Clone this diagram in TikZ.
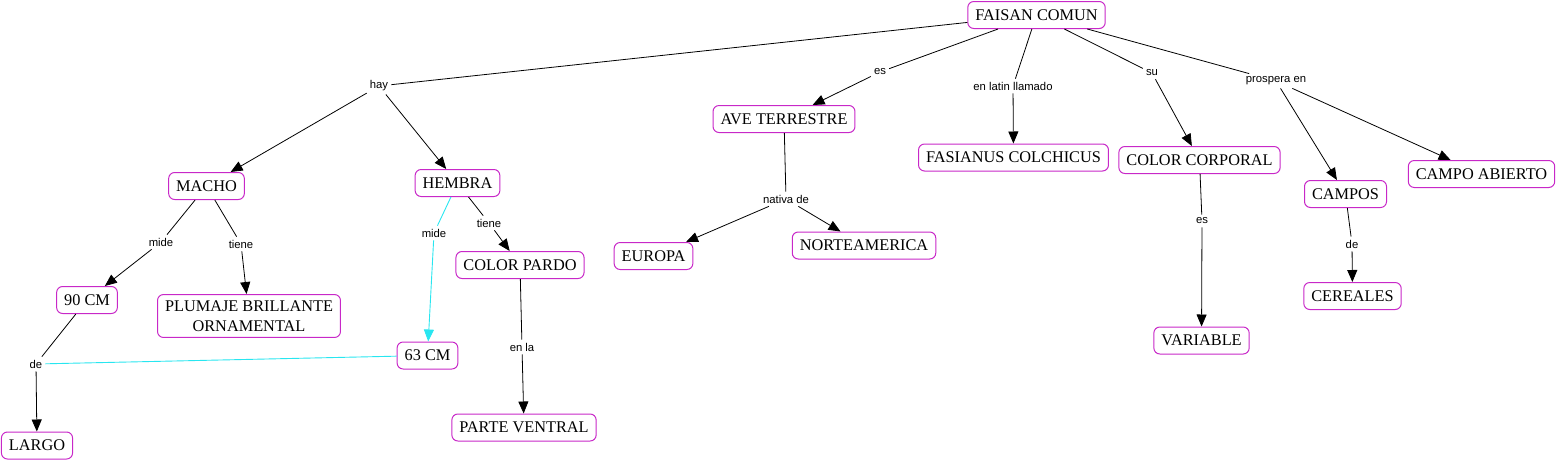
\documentclass[tikz,border=0pt]{standalone}
\usepackage{fontspec}
\setmainfont{Liberation Serif}
\newfontfamily\lblfont{Liberation Sans}
\usetikzlibrary{arrows.meta}
\definecolor{cmapborder}{RGB}{200,40,200}
\definecolor{cmapcyan}{RGB}{40,230,240}
\begin{document}
\begin{tikzpicture}[x=1pt,y=-1pt,
 concept/.style={draw=cmapborder, line width=1pt, rounded corners=6pt, fill=white,
   inner xsep=7.5pt, inner ysep=0pt, minimum height=27pt, align=center,
   font=\fontsize{16.3}{20}\selectfont},
 lbl/.style={font=\lblfont\fontsize{11.3}{13}\selectfont, inner sep=3pt},
 conn/.style={draw=black, line width=0.8pt},
 arr/.style={conn, -{Triangle[length=12pt,width=10pt]}},
 cconn/.style={draw=cmapcyan, line width=0.9pt},
 carr/.style={cconn, -{Triangle[length=12pt,width=10pt]}},
]
\useasboundingbox (0,0) rectangle (1557,461);
% concepts
\node[concept] (faisan) at (1036.5,15) {FAISAN COMUN};
\node[concept] (ave) at (784,119) {AVE TERRESTRE};
\node[concept] (fasianus) at (1013.5,157.5) {FASIANUS COLCHICUS};
\node[concept] (colorcorp) at (1199.5,160) {COLOR CORPORAL};
\node[concept] (campos) at (1345.5,194) {CAMPOS};
\node[concept] (campoab) at (1481.5,174) {CAMPO ABIERTO};
\node[concept] (cereales) at (1352.5,296) {CEREALES};
\node[concept] (variable) at (1201.5,340.5) {VARIABLE};
\node[concept] (europa) at (653.5,256) {EUROPA};
\node[concept] (norte) at (864,245.5) {NORTEAMERICA};
\node[concept] (macho) at (206.5,186) {MACHO};
\node[concept] (hembra) at (457.5,183) {HEMBRA};
\node[concept] (colorpardo) at (520,265) {COLOR PARDO};
\node[concept, inner ysep=6pt] (plumaje) at (249,316) {PLUMAJE BRILLANTE\\ORNAMENTAL};
\node[concept] (cm90) at (87,300) {90 CM};
\node[concept] (cm63) at (427.5,355.5) {63 CM};
\node[concept] (largo) at (37,445.5) {LARGO};
\node[concept] (parte) at (524,427.5) {PARTE VENTRAL};
% labels
\node[lbl] (hay) at (379,86) {hay};
\node[lbl] (es1) at (880,72) {es};
\node[lbl] (latin) at (1013,86) {en latin llamado};
\node[lbl] (su) at (1152,73) {su};
\node[lbl] (prospera) at (1276,81) {prospera en};
\node[lbl] (nativa) at (786,199) {nativa de};
\node[lbl] (mide1) at (161,242) {mide};
\node[lbl] (tiene1) at (241,244) {tiene};
\node[lbl] (de1) at (36,364) {de};
\node[lbl] (mide2) at (434,233) {mide};
\node[lbl] (tiene2) at (489,223) {tiene};
\node[lbl] (enla) at (522,347) {en la};
\node[lbl] (es2) at (1202,221) {es};
\node[lbl] (de2) at (1352,244) {de};
% connectors
\draw[conn] (faisan) -- (hay);
\draw[arr] (hay) -- (macho);
\draw[arr] (hay) -- (hembra);
\draw[conn] (faisan) -- (es1);
\draw[arr] (es1) -- (ave);
\draw[conn] (faisan) -- (latin);
\draw[arr] (latin) -- (fasianus);
\draw[conn] (faisan) -- (su);
\draw[arr] (su) -- (colorcorp);
\draw[conn] (faisan) -- (prospera);
\draw[arr] (prospera) -- (campos);
\draw[arr] (prospera) -- (campoab);
\draw[conn] (ave) -- (nativa);
\draw[arr] (nativa) -- (europa);
\draw[arr] (nativa) -- (norte);
\draw[conn] (colorcorp) -- (es2);
\draw[arr] (es2) -- (variable);
\draw[conn] (campos) -- (de2);
\draw[arr] (de2) -- (cereales);
\draw[conn] (macho) -- (mide1);
\draw[arr] (mide1) -- (cm90);
\draw[conn] (macho) -- (tiene1);
\draw[arr] (tiene1) -- (plumaje);
\draw[conn] (cm90) -- (de1);
\draw[arr] (de1) -- (largo);
\draw[cconn] (cm63) -- (de1);
\draw[cconn] (hembra) -- (mide2);
\draw[carr] (mide2) -- (cm63);
\draw[conn] (hembra) -- (tiene2);
\draw[arr] (tiene2) -- (colorpardo);
\draw[conn] (colorpardo) -- (enla);
\draw[arr] (enla) -- (parte);
\end{tikzpicture}
\end{document}
